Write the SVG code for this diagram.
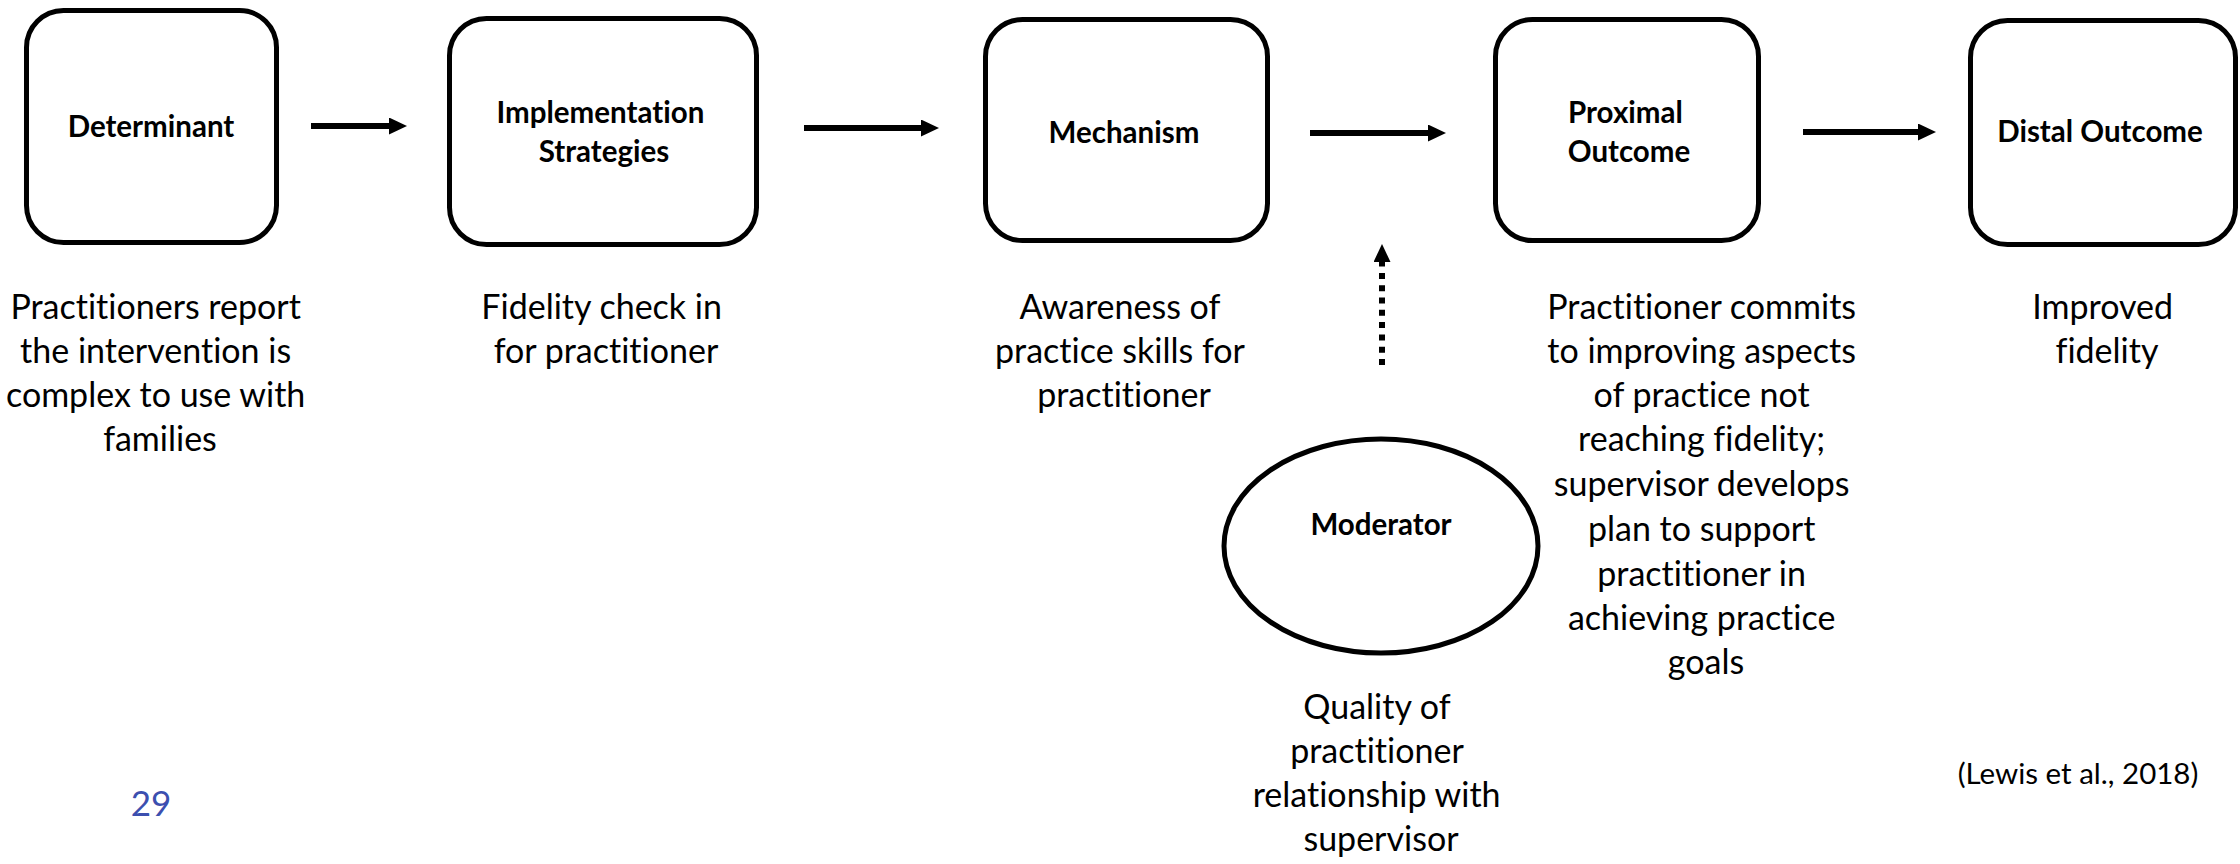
<svg xmlns="http://www.w3.org/2000/svg" width="2240" height="864" viewBox="0 0 2240 864">
  <style>
    text { font-variant-ligatures: none; }
    .box { fill: #ffffff; stroke: #000000; stroke-width: 5; }
    .title { font-family: Lato, "Open Sans", "Liberation Sans", sans-serif; font-weight: 700; font-size: 29.5px; fill: #000000; text-anchor: middle; }
    .desc { font-family: Lato, "Open Sans", "Liberation Sans", sans-serif; font-size: 34px; fill: #000000; text-anchor: middle; }
    .flow { stroke: #000000; stroke-width: 6; fill: none; }
    .dotted { stroke: #000000; stroke-width: 6; stroke-dasharray: 6 6.3; fill: none; }
    .cite { font-family: Lato, "Open Sans", "Liberation Sans", sans-serif; font-size: 29.5px; fill: #000000; text-anchor: middle; }
    .page { font-family: Lato, "Open Sans", "Liberation Sans", sans-serif; font-size: 35px; fill: #3C4FAF; text-anchor: middle; }
  </style>
  <defs>
    <marker id="head" markerUnits="userSpaceOnUse" markerWidth="18" markerHeight="17" refX="0" refY="8.5" orient="auto">
      <path d="M0,0 L18,8.5 L0,17 Z" fill="#000000"/>
    </marker>
  </defs>

  <rect width="2240" height="864" fill="#ffffff"/>

  <!-- connectors -->
  <g id="connectors">
    <line class="flow" x1="311" y1="126" x2="389" y2="126" marker-end="url(#head)"/>
    <line class="flow" x1="804" y1="128" x2="921" y2="128" marker-end="url(#head)"/>
    <line class="flow" x1="1310" y1="133" x2="1428" y2="133" marker-end="url(#head)"/>
    <line class="flow" x1="1803" y1="132" x2="1918" y2="132" marker-end="url(#head)"/>
    <line class="dotted" x1="1382" y1="365" x2="1382" y2="262" marker-end="url(#head)"/>
  </g>

  <!-- chain nodes -->
  <g id="determinant">
    <rect class="box" x="26.5" y="10.5" width="250" height="232" rx="37"/>
    <text class="title" x="151" y="137">Determinant</text>
    <text class="desc" x="160">
      <tspan x="160" y="319">Practitioners report</tspan>
      <tspan x="160" y="363">the intervention is</tspan>
      <tspan x="160" y="407">complex to use with</tspan>
      <tspan x="160" y="451">families</tspan>
    </text>
  </g>

  <g id="implementation-strategies">
    <rect class="box" x="449.5" y="18.5" width="307" height="226" rx="37"/>
    <text class="title">
      <tspan x="604" y="123">Implementation</tspan>
      <tspan x="604" y="162">Strategies</tspan>
    </text>
    <text class="desc">
      <tspan x="606" y="319">Fidelity check in</tspan>
      <tspan x="606" y="363">for practitioner</tspan>
    </text>
  </g>

  <g id="mechanism">
    <rect class="box" x="985.5" y="19.5" width="282" height="221" rx="37"/>
    <text class="title" x="1124" y="143">Mechanism</text>
    <text class="desc">
      <tspan x="1124" y="319">Awareness of</tspan>
      <tspan x="1124" y="363">practice skills for</tspan>
      <tspan x="1124" y="407">practitioner</tspan>
    </text>
  </g>

  <g id="proximal-outcome">
    <rect class="box" x="1495.5" y="19.5" width="263" height="221" rx="37"/>
    <text class="title">
      <tspan x="1629" y="123">Proximal</tspan>
      <tspan x="1629" y="162">Outcome</tspan>
    </text>
    <text class="desc">
      <tspan x="1706" y="319">Practitioner commits</tspan>
      <tspan x="1706" y="363">to improving aspects</tspan>
      <tspan x="1706" y="407">of practice not</tspan>
      <tspan x="1706" y="451">reaching fidelity;</tspan>
      <tspan x="1706" y="496">supervisor develops</tspan>
      <tspan x="1706" y="541">plan to support</tspan>
      <tspan x="1706" y="586">practitioner in</tspan>
      <tspan x="1706" y="630">achieving practice</tspan>
      <tspan x="1706" y="674">goals</tspan>
    </text>
  </g>

  <g id="distal-outcome">
    <rect class="box" x="1970.5" y="20.5" width="265" height="224" rx="37"/>
    <text class="title" x="2100" y="142">Distal Outcome</text>
    <text class="desc">
      <tspan x="2107" y="319">Improved</tspan>
      <tspan x="2107" y="363">fidelity</tspan>
    </text>
  </g>

  <g id="moderator">
    <ellipse class="box" cx="1381" cy="546" rx="157" ry="107"/>
    <text class="title" x="1381" y="535">Moderator</text>
    <text class="desc">
      <tspan x="1381" y="719">Quality of</tspan>
      <tspan x="1381" y="763">practitioner</tspan>
      <tspan x="1381" y="807">relationship with</tspan>
      <tspan x="1381" y="851">supervisor</tspan>
    </text>
  </g>

  <!-- footer -->
  <text class="page" x="151" y="816">29</text>
  <text class="cite" x="2078" y="784">(Lewis et al., 2018)</text>
</svg>
